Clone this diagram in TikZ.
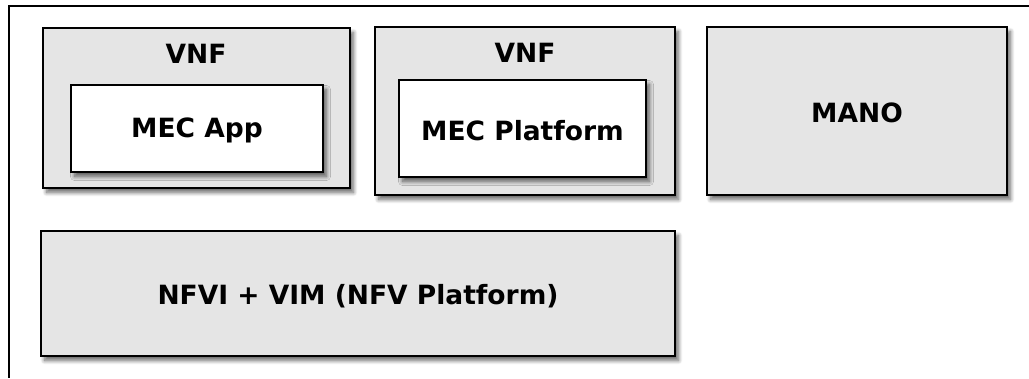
\documentclass[tikz,border=0pt]{standalone}
\usepackage{fontspec}
\setmainfont{DejaVu Sans}
\usetikzlibrary{shadows.blur}
\definecolor{boxgray}{HTML}{E5E5E5}
\begin{document}
\begin{tikzpicture}[x=1pt, y=-1pt,
  blk/.style={draw=black, line width=2.6pt, inner sep=0pt,
    blur shadow={shadow xshift=3.5pt, shadow yshift=-4.5pt,
                 shadow blur steps=10, shadow blur radius=4pt, shadow opacity=60}},
  outerbox/.style={blk, fill=boxgray},
  innerbox/.style={blk, fill=white},
  lbl/.style={font=\fontsize{26.5}{30}\selectfont\bfseries, inner sep=0pt}]
\useasboundingbox (0,0) rectangle (1029,378);

% surrounding frame (top and left edges)
\draw[line width=2.2pt] (1029,6) -- (9,6) -- (9,378);

% first VNF with the MEC application
\node[outerbox, minimum width=307pt, minimum height=160pt] (vnfa) at (196.5,108) {};
\node[lbl] (vnfalbl) at (196,54) {VNF};
\node[innerbox, minimum width=252pt, minimum height=87pt] (app) at (197,128.5) {};
\node[lbl] (applbl) at ([yshift=-1.5pt]app.center) {MEC App};

% second VNF with the MEC platform
\node[outerbox, minimum width=300pt, minimum height=168pt] (vnfb) at (525,111) {};
\node[lbl] (vnfblbl) at (525,53) {VNF};
\node[innerbox, minimum width=247pt, minimum height=97pt] (plat) at (522.5,128.5) {};
\node[lbl] (platlbl) at ([yshift=-2pt]plat.center) {MEC Platform};

% management and orchestration
\node[outerbox, minimum width=300pt, minimum height=168pt] (mano) at (857,111) {};
\node[lbl] (manolbl) at ([yshift=-2pt]mano.center) {MANO};

% virtualisation infrastructure
\node[outerbox, minimum width=634pt, minimum height=125pt] (nfvi) at (358,293.5) {};
\node[lbl] (nfvilbl) at ([yshift=-3pt]nfvi.center) {NFVI + VIM (NFV Platform)};
\end{tikzpicture}
\end{document}
